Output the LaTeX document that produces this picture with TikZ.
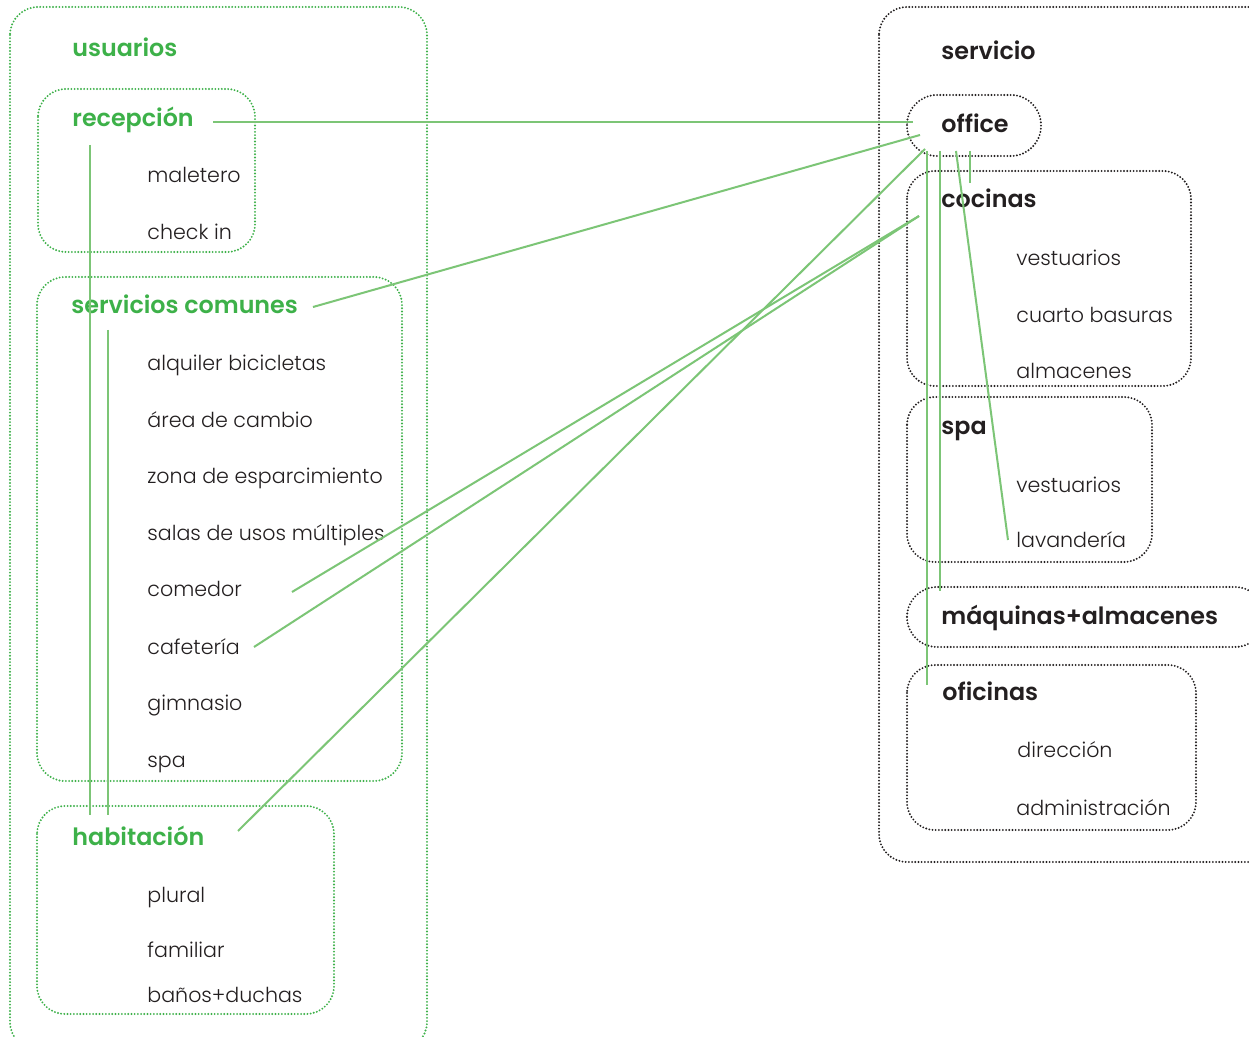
\documentclass[tikz,border=0pt]{standalone}
\usepackage{fontspec}
\setmainfont{Poppins Light}[BoldFont={Poppins SemiBold}]
\definecolor{headgreen}{HTML}{3DB149}
\definecolor{boxgreen}{HTML}{3DB149}
\definecolor{linkgreen}{HTML}{7CC576}
\definecolor{textdark}{HTML}{231F20}
\newcommand{\itemfnt}{\fontsize{10.3pt}{12pt}\selectfont}
\newcommand{\headfnt}{\fontsize{11.9pt}{13pt}\selectfont\bfseries}
\begin{document}
\begin{tikzpicture}[x=0.5pt,y=-0.5pt,
  gbox/.style={draw=boxgreen, line width=1.05pt, dash pattern=on 0pt off 1.6pt, line cap=round, rounded corners=14pt},
  kbox/.style={draw=textdark, line width=1.05pt, dash pattern=on 0pt off 1.6pt, line cap=round, rounded corners=14pt},
  link/.style={draw=linkgreen, line width=1pt},
  item/.style={anchor=base west, inner sep=0pt, font=\itemfnt, text=textdark},
  ghead/.style={anchor=base west, inner sep=0pt, font=\headfnt, text=headgreen},
  khead/.style={anchor=base west, inner sep=0pt, font=\headfnt, text=textdark}]
\useasboundingbox (0,0) rectangle (1249,1037);
\clip (0,0) rectangle (1249,1037);
\fill[white] (0,0) rectangle (1249,1037);
% ---------- left boxes
\path[gbox] (10,7) rectangle (427,1050);
\path[gbox] (38,89) rectangle (255,252);
\path[gbox] (37,277) rectangle (402,781);
\path[gbox] (37,806) rectangle (334,1014);
% ---------- right boxes
\path[kbox] (879,7) rectangle (1300,862);
\path[kbox, rounded corners=15pt] (907,95) rectangle (1041,156);
\path[kbox] (907,171) rectangle (1191,386);
\path[kbox] (907,397) rectangle (1152,562);
\path[kbox, rounded corners=15pt] (907,587) rectangle (1265,647);
\path[kbox] (907,665) rectangle (1196,830);
% ---------- left texts
\node[ghead] (usuarios) at (72,57) {usuarios};
\node[ghead] (recepcion) at (72,127) {recepción};
\node[item] (maletero) at (147,183) {maletero};
\node[item] (checkin) at (147,240) {check in};
\node[ghead] (servcom) at (71,314) {servicios comunes};
\node[item] (alquiler) at (147,371) {alquiler bicicletas};
\node[item] (area) at (147,428) {área de cambio};
\node[item] (zona) at (147,484) {zona de esparcimiento};
\node[item] (salas) at (147,541) {salas de usos múltiples};
\node[item] (comedor) at (147,597) {comedor};
\node[item] (cafeteria) at (147,655) {cafetería};
\node[item] (gimnasio) at (147,711) {gimnasio};
\node[item] (spaL) at (147,768) {spa};
\node[ghead] (habitacion) at (72,845) {habitación};
\node[item] (plural) at (147,902) {plural};
\node[item] (familiar) at (147,957) {familiar};
\node[item] (banos) at (147,1002) {baños+duchas};
% ---------- right texts
\node[khead] (servicio) at (941,60) {servicio};
\node[khead] (office) at (941,133) {office};
\node[khead] (cocinas) at (941,208) {cocinas};
\node[item] (vest1) at (1016,266) {vestuarios};
\node[item] (basuras) at (1016,323) {cuarto basuras};
\node[item] (almac) at (1016,379) {almacenes};
\node[khead] (spa) at (941,435) {spa};
\node[item] (vest2) at (1016,493) {vestuarios};
\node[item] (lavand) at (1016,548) {lavandería};
\node[khead] (maquinas) at (941,625) {máquinas+almacenes};
\node[khead] (oficinas) at (942,701) {oficinas};
\node[item] (direccion) at (1017,757) {dirección};
\node[item] (admin) at (1016,815) {administración};
% ---------- connector end points
\coordinate (recE) at (213,122);
\coordinate (offA) at (913,122);
\coordinate (scE) at (313,307);
\coordinate (offB) at (920,135);
\coordinate (habE) at (238,831);
\coordinate (offC) at (925,149);
\coordinate (comE) at (292,592);
\coordinate (cafE) at (254,647);
\coordinate (cocW) at (919,216);
\coordinate (offD) at (927,151);
\coordinate (ofiT) at (927,685);
\coordinate (offE) at (940,151);
\coordinate (maqT) at (940,591);
\coordinate (offF) at (956,151);
\coordinate (lavW) at (1008,540);
\coordinate (offG) at (970,151);
\coordinate (cocT) at (970,183);
\coordinate (recS) at (90,145);
\coordinate (habN1) at (90,815);
\coordinate (scS) at (108,330);
\coordinate (habN2) at (108,815);
% ---------- connectors
\draw[link] (recE) -- (offA);
\draw[link] (scE) -- (offB);
\draw[link] (habE) -- (offC);
\draw[link] (comE) -- (cocW);
\draw[link] (cafE) -- (cocW);
\draw[link] (offD) -- (ofiT);
\draw[link] (offE) -- (maqT);
\draw[link] (offF) -- (lavW);
\draw[link] (offG) -- (cocT);
\draw[link] (recS) -- (habN1);
\draw[link] (scS) -- (habN2);
\end{tikzpicture}
\end{document}
